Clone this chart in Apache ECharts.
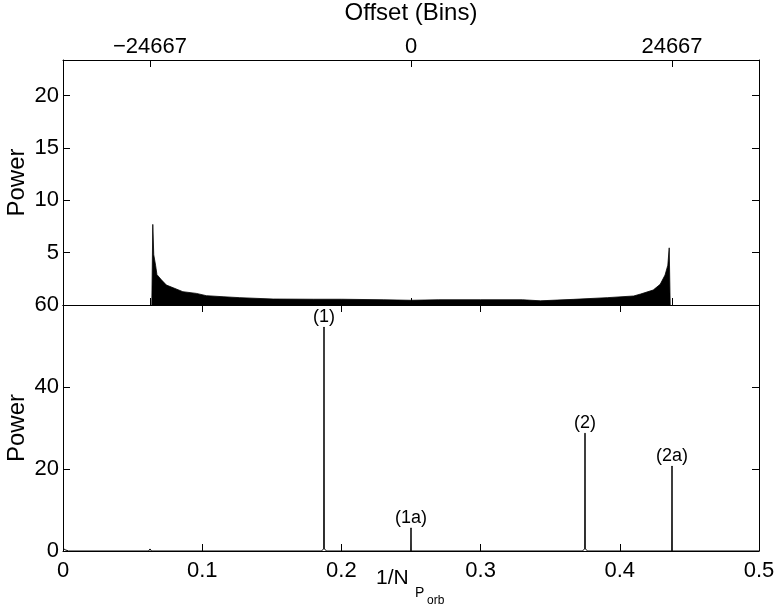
<!DOCTYPE html>
<html>
<head>
<meta charset="utf-8">
<script src="https://cdn.jsdelivr.net/npm/echarts@6/dist/echarts.min.js"></script>
<style>
  html, body { margin: 0; padding: 0; background: #fff; }
  #chart { width: 782px; height: 607px; }
</style>
</head>
<body>
<div id="chart"></div>
<script>
  // top panel: envelope of the power spectrum (x in 1/N_Porb)
  const topX = [0.0638, 0.0645, 0.0652, 0.0665, 0.0675, 0.0707, 0.0743, 0.0791, 0.0861, 0.0958,
    0.103, 0.115, 0.127, 0.151, 0.18, 0.2, 0.23, 0.25, 0.27, 0.3, 0.33, 0.343, 0.367, 0.391,
    0.41, 0.415, 0.424, 0.429, 0.4325, 0.4345, 0.4355, 0.4362];
  const topPower = [0, 7.7, 4.8, 3.8, 2.9, 2.4, 1.9, 1.65, 1.27, 1.11,
    0.89, 0.79, 0.7, 0.57, 0.55, 0.55, 0.5, 0.45, 0.5, 0.5, 0.5, 0.4, 0.54, 0.7,
    0.86, 1.05, 1.43, 1.97, 2.86, 3.8, 5.46, 0];

  // top axis: offset in bins
  const offsetTickPos = [0.0625, 0.25, 0.4375];
  const offsetTickLabels = ['\u221224667', '0', '24667'];

  // bottom panel: spikes
  const bottomX = [0, 0.0015, 0.004, 0.0615, 0.0625, 0.0635, 0.1855, 0.1873, 0.1875, 0.1877, 0.1895,
    0.2498, 0.25, 0.2502, 0.373, 0.3748, 0.375, 0.3752, 0.377, 0.4373, 0.4375, 0.4377, 0.5];
  const bottomPower = [0.7, 0.3, 0, 0, 0.5, 0, 0, 0.5, 54.6, 0.5, 0,
    0, 5.6, 0, 0, 0.5, 28.7, 0.5, 0, 0, 20.7, 0, 0];

  const peakX = [0.1875, 0.25, 0.375, 0.4375];
  const peakPower = [54.6, 5.6, 28.7, 20.7];
  const peakNames = ['(1)', '(1a)', '(2)', '(2a)'];

  const font = 'Liberation Sans';

  const zip = (xs, ys) => xs.map((x, i) => [x, ys[i]]);

  const baseX = (extra) => Object.assign({
    type: 'value',
    min: 0,
    max: 0.5,
    splitLine: { show: false },
    axisLine: { show: true, onZero: false, lineStyle: { color: '#000', width: 1 } },
    axisTick: { show: true, inside: true, length: 7, lineStyle: { color: '#000' } },
    axisLabel: { show: false },
  }, extra);

  const baseY = (extra) => Object.assign({
    type: 'value',
    splitLine: { show: false },
    axisLine: { show: true, onZero: false, lineStyle: { color: '#000', width: 1 } },
    axisTick: { show: true, inside: true, length: 7, lineStyle: { color: '#000' } },
    axisLabel: { show: false },
  }, extra);

  const chart = echarts.init(document.getElementById('chart'));

  const option = {
    animation: false,
    backgroundColor: '#fff',
    grid: [
      { left: 63, right: 23, top: 60, height: 245, outerBoundsMode: 'none' },
      { left: 63, right: 23, top: 305, height: 246, outerBoundsMode: 'none' },
    ],
    xAxis: [
      baseX({
        gridIndex: 0,
        position: 'bottom',
        axisTick: { show: true, inside: true, length: 7, customValues: offsetTickPos, lineStyle: { color: '#000' } },
      }),
      baseX({
        gridIndex: 0,
        position: 'top',
        axisTick: { show: true, inside: true, length: 7, customValues: offsetTickPos, lineStyle: { color: '#000' } },
        axisLabel: {
          show: true,
          customValues: offsetTickPos,
          formatter: (v) => offsetTickLabels[offsetTickPos.indexOf(v)],
          fontFamily: font,
          fontSize: 22,
          color: '#000',
          margin: 2,
        },
        name: 'Offset (Bins)',
        nameLocation: 'middle',
        nameGap: 35,
        nameMoveOverlap: false,
        nameTextStyle: { fontFamily: font, fontSize: 24, color: '#000' },
      }),
      baseX({
        gridIndex: 1,
        position: 'bottom',
        interval: 0.1,
        axisLabel: { show: true, fontFamily: font, fontSize: 22, color: '#000', margin: 9 },
      }),
      baseX({ gridIndex: 1, position: 'top', interval: 0.1 }),
    ],
    yAxis: [
      baseY({
        gridIndex: 0,
        position: 'left',
        min: 0,
        max: 23.4,
        interval: 5,
        axisLabel: {
          show: true, showMinLabel: false, showMaxLabel: false,
          fontFamily: font, fontSize: 22, color: '#000', margin: 4,
        },
        name: 'Power',
        nameLocation: 'middle',
        nameGap: 34,
        nameMoveOverlap: false,
        nameTextStyle: { fontFamily: font, fontSize: 24, color: '#000' },
      }),
      baseY({ gridIndex: 0, position: 'right', min: 0, max: 23.4, interval: 5 }),
      baseY({
        gridIndex: 1,
        position: 'left',
        min: 0,
        max: 60,
        interval: 20,
        axisLabel: { show: true, fontFamily: font, fontSize: 22, color: '#000', margin: 4 },
        name: 'Power',
        nameLocation: 'middle',
        nameGap: 34,
        nameMoveOverlap: false,
        nameTextStyle: { fontFamily: font, fontSize: 24, color: '#000' },
      }),
      baseY({ gridIndex: 1, position: 'right', min: 0, max: 60, interval: 20 }),
    ],
    graphic: [
      { type: 'text', x: 376, y: 578, style: { text: '1/N', font: '21px "Liberation Sans"', fill: '#000', verticalAlign: 'middle' } },
      { type: 'text', x: 415, y: 593, style: { text: 'P', font: '14px "Liberation Sans"', fill: '#000', verticalAlign: 'middle' } },
      { type: 'text', x: 427, y: 601, style: { text: 'orb', font: '12px "Liberation Sans"', fill: '#000', verticalAlign: 'middle' } },
    ],
    series: [
      {
        type: 'line',
        xAxisIndex: 0,
        yAxisIndex: 0,
        data: zip(topX, topPower),
        symbol: 'none',
        lineStyle: { color: '#000', width: 0.8 },
        areaStyle: { color: '#000', opacity: 1 },
      },
      {
        type: 'line',
        xAxisIndex: 2,
        yAxisIndex: 2,
        data: zip(bottomX, bottomPower),
        symbol: 'none',
        lineStyle: { color: '#000', width: 1 },
      },
      {
        type: 'scatter',
        xAxisIndex: 2,
        yAxisIndex: 2,
        data: zip(peakX, peakPower),
        symbolSize: 1,
        itemStyle: { color: '#000', opacity: 1 },
        label: {
          show: true,
          position: 'top',
          distance: 1,
          formatter: (p) => peakNames[p.dataIndex],
          fontFamily: font,
          fontSize: 18,
          color: '#000',
          opacity: 1,
        },
      },
    ],
  };

  chart.setOption(option);
</script>
</body>
</html>
